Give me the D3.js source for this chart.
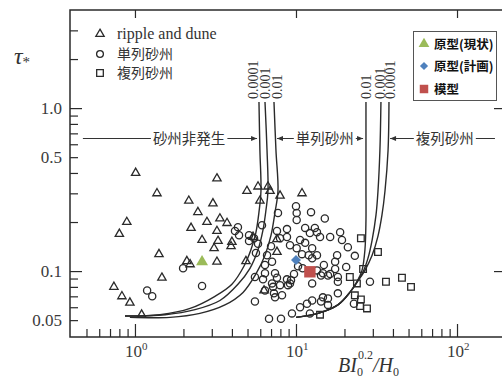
<!DOCTYPE html>
<html>
<head>
<meta charset="utf-8">
<script src="https://cdn.jsdelivr.net/npm/d3@7"></script>
<style>
  body { margin: 0; background: #fff; }
  svg { display: block; }
</style>
</head>
<body>
<div id="chart"></div>
<script>
// ripple and dune (triangles)
const ripplePts = [
  [1.01,0.40],[1.37,0.30],[2.16,0.27],[3.05,0.26],[2.46,0.23],[3.37,0.21],[3.73,0.197],
  [0.89,0.20],[0.80,0.169],[2.80,0.20],[2.23,0.184],[3.23,0.176],[2.61,0.155],[3.28,0.153],
  [3.10,0.138],[4.0,0.151],[3.95,0.142],[1.41,0.127],[2.10,0.115],[2.20,0.110],[3.23,0.114],
  [4.89,0.115],[1.47,0.091],[0.74,0.080],[0.83,0.070],[0.93,0.064],[1.10,0.054],[3.23,0.37],
  [4.96,0.31],[5.81,0.33],[6.70,0.33],[6.90,0.31],[7.96,0.29],[5.97,0.27],[10.9,0.30],
  [7.62,0.157],[6.33,0.076],[7.62,0.131],[5.41,0.162]
];
// 単列砂州 (circles)
const singlePts = [
  [4.36,0.186],[4.18,0.176],[4.43,0.166],[5.11,0.166],[5.11,0.153],[5.49,0.159],[7.73,0.227],
  [7.62,0.176],[7.96,0.159],[7.0,0.142],[5.64,0.129],[6.61,0.125],[7.10,0.114],[6.42,0.109],
  [7.41,0.097],[6.42,0.097],[7.62,0.091],[5.56,0.092],[7.10,0.084],[7.96,0.082],[7.30,0.073],
  [8.19,0.071],[5.56,0.065],[6.80,0.051],[8.07,0.051],[10.0,0.25],[10.1,0.227],[10.1,0.206],
  [12.4,0.230],[15.1,0.21],[8.79,0.181],[11.4,0.184],[13.1,0.184],[12.2,0.171],[13.5,0.173],
  [14.1,0.162],[16.3,0.162],[18.8,0.173],[19.3,0.155],[8.79,0.162],[10.6,0.155],[11.4,0.149],
  [9.18,0.144],[10.1,0.138],[12.6,0.138],[21.0,0.140],[23.2,0.124],[18.0,0.125],[10.9,0.127],
  [12.0,0.125],[13.5,0.125],[17.5,0.114],[20.5,0.106],[14.9,0.109],[10.3,0.107],[11.0,0.104],
  [9.72,0.096],[14.3,0.094],[15.8,0.094],[18.2,0.086],[12.6,0.084],[8.79,0.089],[9.18,0.084],
  [18.2,0.073],[14.7,0.069],[15.8,0.068],[14.3,0.065],[15.8,0.062],[12.6,0.066],[11.7,0.063],
  [10.6,0.060],[9.44,0.055],[12.2,0.055],[6.42,0.076],[7.20,0.080],[7.41,0.069],[6.24,0.089],
  [8.92,0.082],[9.31,0.088],[12.6,0.120],[13.5,0.101],[14.7,0.097],[16.3,0.096],[17.5,0.103],
  [18.2,0.092],[28.8,0.086],[6.15,0.191],[5.81,0.147],[22.9,0.063],[1.99,0.104],[2.61,0.081],
  [1.19,0.076],[1.28,0.070]
];
// 複列砂州 (squares)
const multiPts = [
  [25.3,0.159],[32.3,0.131],[26.1,0.103],[21.6,0.092],[23.9,0.084],[36.2,0.086],[45.5,0.091],
  [51.8,0.080],[23.2,0.071],[25.3,0.067],[25.0,0.061],[27.6,0.059],[14.1,0.054]
];
const protoNow = [[2.61,0.114]];
const protoPlan = [[10.0,0.117]];
const modelPts = [[12.2,0.099]];

// regime boundary curves
const leftCurves = [
  [[0.867,0.053],[1.43,0.054],[2.20,0.059],[3.14,0.070],[4.0,0.083],[4.75,0.107],[5.25,0.135],[5.64,0.173],[5.89,0.230],[6.06,0.31],[5.97,0.55],[5.89,1.09]],
  [[0.867,0.053],[1.54,0.054],[2.36,0.058],[3.37,0.066],[4.36,0.083],[5.18,0.104],[5.81,0.135],[6.24,0.179],[6.51,0.237],[6.70,0.31],[6.61,0.55],[6.42,1.09]],
  [[0.93,0.052],[1.65,0.052],[2.53,0.055],[3.62,0.062],[4.69,0.074],[5.64,0.096],[6.42,0.125],[7.0,0.166],[7.41,0.230],[7.73,0.31],[7.51,0.55],[7.30,1.09]]
];
const leftCurveLabels = ['0.0001', '0.001', '0.01'];
const rightCurves = [
  [[10.0,0.052],[13.7,0.055],[18.2,0.062],[21.6,0.074],[23.9,0.086],[25.7,0.101],[26.8,0.135],[27.2,0.206],[27.2,0.31],[27.2,0.55],[27.2,1.09]],
  [[10.0,0.052],[13.7,0.055],[18.2,0.062],[21.6,0.074],[23.9,0.086],[26.1,0.099],[28.0,0.120],[29.7,0.155],[31.4,0.221],[32.3,0.31],[33.2,0.55],[33.7,1.09]],
  [[10.0,0.052],[13.7,0.055],[18.2,0.062],[21.6,0.074],[24.3,0.087],[26.8,0.101],[29.7,0.125],[32.3,0.164],[34.2,0.221],[35.7,0.31],[37.3,0.55],[37.8,1.09]]
];
const rightCurveLabels = ['0.01', '0.001', '0.0001'];

const regimeNames = ['砂州非発生', '単列砂州', '複列砂州'];
const regimeCenters = [2.17, 15.1, 84];
const regimeBounds = [[0.475, 5.73], [7.62, 26.1], [38.4, 172]];
const regimeArrows = [[false, true], [true, true], [true, false]];
const regimeTau = 0.66;

const xMajor = [1, 10, 100];
const xMajorExp = ['0', '1', '2'];
const yLabelValues = [0.05, 0.1, 0.5, 1];
const yLabels = ['0.05', '0.1', '0.5', '1.0'];
const yMajor = [0.1, 1];

const legendLabels = ['ripple and dune', '単列砂州', '複列砂州'];
const legend2Labels = ['原型(現状)', '原型(計画)', '模型'];

const width = 502, height = 378;
const plot = { left: 70, right: 503, top: 10, bottom: 337 };
const ink = '#2a2a2a';
const serif = '"Liberation Serif", "DejaVu Serif", serif';
const cjk = '"Noto Sans CJK JP", sans-serif';

const svg = d3.select('#chart').append('svg')
  .attr('width', width).attr('height', height);

const x = d3.scaleLog().domain([0.395, 193]).range([plot.left, plot.right]);
const y = d3.scaleLog().domain([0.0394, 4]).range([plot.bottom, plot.top]);

// frame
svg.append('path')
  .attr('d', `M${plot.right},${plot.top}H${plot.left}V${plot.bottom}H${plot.right}`)
  .attr('fill', 'none').attr('stroke', ink).attr('stroke-width', 1.5);

const xMinor = x.ticks().filter(v => v > 0.45 && !xMajor.includes(v));
const yMinor = y.ticks().filter(v => v > 0.045 && v < 3.9 && !yMajor.includes(v));

const styleTicks = g => {
  g.select('.domain').remove();
  g.selectAll('.tick line').attr('stroke', ink).attr('stroke-width', 1.2);
};

svg.append('g').attr('transform', `translate(0,${plot.bottom})`)
  .call(d3.axisBottom(x).tickValues(xMinor).tickSize(-8).tickFormat(''))
  .call(styleTicks);
svg.append('g').attr('transform', `translate(0,${plot.bottom})`)
  .call(d3.axisBottom(x).tickValues(xMajor).tickSize(-13).tickFormat(''))
  .call(styleTicks);
svg.append('g').attr('transform', `translate(0,${plot.top})`)
  .call(d3.axisTop(x).tickValues(xMajor).tickSize(-8).tickFormat(''))
  .call(styleTicks);
svg.append('g').attr('transform', `translate(${plot.left},0)`)
  .call(d3.axisLeft(y).tickValues(yMinor).tickSize(-8).tickFormat(''))
  .call(styleTicks);
svg.append('g').attr('transform', `translate(${plot.left},0)`)
  .call(d3.axisLeft(y).tickValues(yMajor).tickSize(-12).tickFormat(''))
  .call(styleTicks);
svg.append('g').attr('transform', `translate(${plot.right},0)`)
  .call(d3.axisRight(y).tickValues(yMajor).tickSize(-9).tickFormat(''))
  .call(styleTicks);

// tick labels
svg.append('g').selectAll('text').data(yLabelValues).join('text')
  .attr('x', plot.left - 8).attr('y', d => y(d)).attr('dy', '0.35em')
  .attr('text-anchor', 'end')
  .style('font-family', serif).style('font-size', '17px').attr('fill', '#3a3a3a')
  .text((d, i) => yLabels[i]);

const xl = svg.append('g').selectAll('text').data(xMajor).join('text')
  .attr('x', d => x(d) - 10).attr('y', plot.bottom + 20)
  .style('font-family', serif).style('font-size', '17px').attr('fill', '#3a3a3a');
xl.append('tspan').text('10');
xl.append('tspan').attr('dy', -7).style('font-size', '11px').text((d, i) => xMajorExp[i]);

// axis titles
const yt = svg.append('text').attr('x', 14).attr('y', 64)
  .style('font-family', serif).attr('fill', '#333');
yt.append('tspan').style('font-style', 'italic').style('font-size', '24px').text('τ');
yt.append('tspan').attr('dy', 3).style('font-size', '15px').text('*');

const xt = svg.append('text').attr('x', 338).attr('y', 372)
  .style('font-family', serif).style('font-style', 'italic').attr('fill', '#333')
  .style('font-size', '20px');
xt.append('tspan').text('BI');
xt.append('tspan').attr('dy', 4).style('font-size', '12px').style('font-style', 'normal').text('0');
xt.append('tspan').attr('dx', -5).attr('dy', -17).style('font-size', '12px').style('font-style', 'normal').text('0.2');
xt.append('tspan').attr('dx', 0).attr('dy', 13).text('/H');
xt.append('tspan').attr('dy', 4).style('font-size', '12px').style('font-style', 'normal').text('0');

// boundary curves
const line = d3.line().x(d => x(d[0])).y(d => y(d[1])).curve(d3.curveCatmullRom.alpha(0.5));
const curveG = svg.append('g').attr('fill', 'none').attr('stroke', ink).attr('stroke-width', 1.4);
curveG.selectAll('path.l').data(leftCurves).join('path').attr('class', 'l').attr('d', line);
curveG.selectAll('path.r').data(rightCurves).join('path').attr('class', 'r').attr('d', line);

const curveLabel = (curves, labels, dxs) => {
  svg.append('g').selectAll('text').data(curves).join('text')
    .attr('transform', (c, i) => {
      const top = c[c.length - 1];
      return `translate(${x(top[0]) + dxs[i]},${y(top[1]) - 3}) rotate(-90)`;
    })
    .attr('dy', '0.35em')
    .style('font-family', serif).style('font-size', '14px').attr('fill', '#333')
    .text((c, i) => labels[i]);
};
curveLabel(leftCurves, leftCurveLabels, [-6, 0, 3]);
curveLabel(rightCurves, rightCurveLabels, [0, -1, 1]);

// regime annotation line
const ry = Math.round(y(regimeTau)) + 0.5;
const ann = svg.append('g');
regimeNames.forEach((name, i) => {
  const cx = x(regimeCenters[i]);
  const t = ann.append('text').attr('x', cx).attr('y', ry).attr('dy', '0.36em')
    .attr('text-anchor', 'middle')
    .style('font-family', cjk).style('font-size', '14.5px').attr('fill', '#333')
    .text(name);
  const w = t.node().getComputedTextLength();
  const x0 = x(regimeBounds[i][0]), x1 = x(regimeBounds[i][1]);
  ann.append('path')
    .attr('d', `M${x0},${ry}H${cx - w / 2 - 2}M${cx + w / 2 + 2},${ry}H${x1}`)
    .attr('stroke', '#333').attr('stroke-width', 1.1).attr('fill', 'none');
  const head = (tip, dir) => ann.append('path')
    .attr('d', `M${tip},${ry}L${tip - dir * 6},${ry - 2.5}L${tip - dir * 6},${ry + 2.5}Z`)
    .attr('fill', '#333');
  if (regimeArrows[i][0]) head(x0, -1);
  if (regimeArrows[i][1]) head(x1, 1);
});

// data markers
const sym = (type, size) => d3.symbol().type(type).size(size)();
const marks = svg.append('g').attr('fill', 'none').attr('stroke', ink).attr('stroke-width', 1.3);
marks.selectAll('path.tri').data(ripplePts).join('path').attr('class', 'tri')
  .attr('transform', d => `translate(${x(d[0])},${y(d[1])})`)
  .attr('d', sym(d3.symbolTriangle, 30));
marks.selectAll('circle').data(singlePts).join('circle')
  .attr('cx', d => x(d[0])).attr('cy', d => y(d[1])).attr('r', 3.6);
marks.selectAll('path.sq').data(multiPts).join('path').attr('class', 'sq')
  .attr('transform', d => `translate(${x(d[0])},${y(d[1])})`)
  .attr('d', sym(d3.symbolSquare, 44));

svg.append('g').selectAll('path').data(protoNow).join('path')
  .attr('transform', d => `translate(${x(d[0])},${y(d[1])})`)
  .attr('d', sym(d3.symbolTriangle, 62)).attr('fill', '#9BBB59');
svg.append('g').selectAll('path').data(protoPlan).join('path')
  .attr('transform', d => `translate(${x(d[0])},${y(d[1])}) rotate(45)`)
  .attr('d', sym(d3.symbolSquare, 50)).attr('fill', '#4F81BD');
svg.append('g').selectAll('path').data(modelPts).join('path')
  .attr('transform', d => `translate(${x(d[0])},${y(d[1])})`)
  .attr('d', sym(d3.symbolSquare, 130)).attr('fill', '#C0504D');

// legend (data types)
const legendY = [34, 54, 73];
const legendSym = [sym(d3.symbolTriangle, 30), null, sym(d3.symbolSquare, 44)];
legendLabels.forEach((lab, i) => {
  const g = svg.append('g').attr('transform', `translate(100,${legendY[i]})`);
  if (legendSym[i]) g.append('path').attr('d', legendSym[i]);
  else g.append('circle').attr('r', 3.4);
  g.selectAll('path,circle').attr('fill', 'none').attr('stroke', ink).attr('stroke-width', 1.3);
  g.append('text').attr('x', 17).attr('dy', '0.33em')
    .style('font-family', i === 0 ? serif : cjk)
    .style('font-size', i === 0 ? '16px' : '14px').attr('fill', '#333')
    .text(lab);
});

// legend (cases)
const lg = svg.append('g');
lg.append('rect').attr('x', 413.5).attr('y', 31.5).attr('width', 83).attr('height', 69)
  .attr('fill', '#fff').attr('stroke', '#555').attr('stroke-width', 1);
const lgY = [44, 66, 89];
const lgSym = [
  { d: sym(d3.symbolTriangle, 50), fill: '#9BBB59', rot: 0 },
  { d: sym(d3.symbolSquare, 34), fill: '#4F81BD', rot: 45 },
  { d: sym(d3.symbolSquare, 72), fill: '#C0504D', rot: 0 }
];
legend2Labels.forEach((lab, i) => {
  const g = lg.append('g').attr('transform', `translate(424,${lgY[i]})`);
  g.append('path').attr('d', lgSym[i].d).attr('fill', lgSym[i].fill)
    .attr('transform', `rotate(${lgSym[i].rot})`);
  g.append('text').attr('x', 10).attr('dy', '0.36em')
    .style('font-family', cjk).style('font-size', '12.5px').style('font-weight', 'bold')
    .attr('fill', '#111').text(lab);
});
</script>
</body>
</html>
